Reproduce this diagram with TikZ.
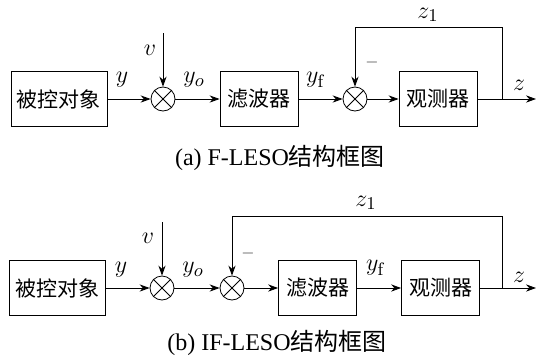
\documentclass[tikz,border=0pt]{standalone}
\usepackage[no-math]{fontspec}
\setmainfont{Liberation Serif}
\newfontfamily\cjk{Noto Sans CJK SC}
\usetikzlibrary{arrows.meta}

\begin{document}
\begin{tikzpicture}[
    x=0.5pt, y=-0.5pt,
    every node/.style={font=\fontsize{12}{14}\selectfont},
    block/.style={
        rectangle,
        draw,
        minimum height=27.5pt,
        inner sep=0pt,
        font=\cjk\fontsize{10.5}{12}\selectfont
    },
    wideblock/.style={block, minimum width=48pt},
    narrowblock/.style={block, minimum width=39pt},
    sum/.style={circle, draw, minimum size=12pt, inner sep=0pt},
    label/.style={font=\fontsize{13}{15}\selectfont},
    minus/.style={font=\footnotesize, text=black!70},
    arrow/.style={-{Stealth[length=5pt,width=3.6pt]}}
]
\useasboundingbox (0,0) rectangle (536,359);

% Nodes (a)
\node (plantA) [wideblock] at (59,99) {被控对象};
\node (sumA1) [sum] at (163,99) {};
\node (filtA) [narrowblock] at (259,99) {滤波器};
\node (sumA2) [sum] at (355,99) {};
\node (obsA) [narrowblock] at (438,99) {观测器};
\coordinate (vA) at (163,33);
\coordinate (brA) at (502,99);
\coordinate (outA) at (536,99);
\coordinate (topA) at (355,27);

\node (yA) [label] at (122,80) {$y$};
\node (yoA) [label] at (194,80) {$y_o$};
\node (yfA) [label] at (316,80) {$y_{\mathrm{f}}$};
\node (vlA) [label] at (150,50) {$v$};
\node (zA) [label] at (519,85) {$z$};
\node (z1A) [label] at (428,15) {$z_1$};
\node (mA) [minus] at (372,62) {$-$};
\node (capA) at (280,158) {(a) F-LESO{\cjk 结构框图}};

% Nodes (b)
\node (plantB) [wideblock] at (57.5,288) {被控对象};
\node (sumB1) [sum] at (162,288) {};
\node (sumB2) [sum] at (232,288) {};
\node (filtB) [narrowblock] at (317.5,288) {滤波器};
\node (obsB) [narrowblock] at (440.5,288) {观测器};
\coordinate (vB) at (162,222);
\coordinate (brB) at (502,288);
\coordinate (outB) at (536,288);
\coordinate (topB) at (232,216);

\node (yB) [label] at (121,270) {$y$};
\node (yoB) [label] at (193,270) {$y_o$};
\node (yfB) [label] at (376,268) {$y_{\mathrm{f}}$};
\node (vlB) [label] at (148,238) {$v$};
\node (zB) [label] at (519,277) {$z$};
\node (z1B) [label] at (366,203) {$z_1$};
\node (mB) [minus] at (248,253) {$-$};
\node (capB) at (277,343) {(b) IF-LESO{\cjk 结构框图}};

% Crosses
\foreach \s in {sumA1,sumA2,sumB1,sumB2}
    \draw (\s.45) -- (\s.225) (\s.135) -- (\s.315);

% Arrows (a)
\draw [arrow] (plantA) -- (sumA1);
\draw [arrow] (vA) -- (sumA1);
\draw [arrow] (sumA1) -- (filtA);
\draw [arrow] (filtA) -- (sumA2);
\draw [arrow] (sumA2) -- (obsA);
\draw [arrow] (obsA) -- (outA);
\draw [arrow] (brA) |- (topA) -- (sumA2);

% Arrows (b)
\draw [arrow] (plantB) -- (sumB1);
\draw [arrow] (vB) -- (sumB1);
\draw [arrow] (sumB1) -- (sumB2);
\draw [arrow] (sumB2) -- (filtB);
\draw [arrow] (filtB) -- (obsB);
\draw [arrow] (obsB) -- (outB);
\draw [arrow] (brB) |- (topB) -- (sumB2);

\end{tikzpicture}
\end{document}
